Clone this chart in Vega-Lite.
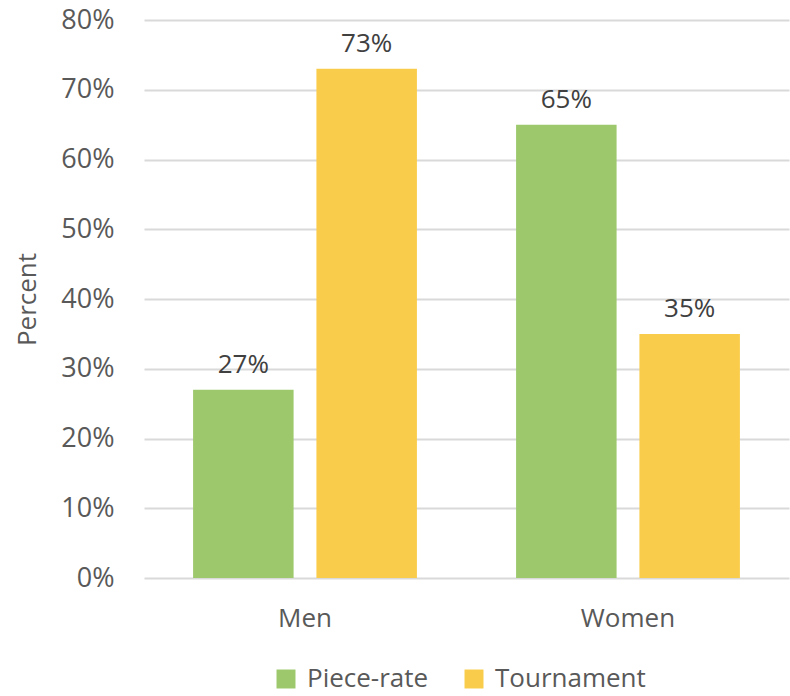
{
  "$schema": "https://vega.github.io/schema/vega-lite/v6.json",
  "width": 645,
  "height": 558,
  "autosize": {"type": "none"},
  "padding": {"left": 144, "top": 20, "right": 1, "bottom": 118},
  "background": "white",
  "config": {
    "view": {"stroke": null},
    "font": "Open Sans"
  },
  "data": {
    "values": [
      {"gender": "Men", "scheme": "Piece-rate", "pct": 0.27},
      {"gender": "Men", "scheme": "Tournament", "pct": 0.73},
      {"gender": "Women", "scheme": "Piece-rate", "pct": 0.65},
      {"gender": "Women", "scheme": "Tournament", "pct": 0.35}
    ]
  },
  "encoding": {
    "x": {
      "field": "gender", "type": "nominal",
      "scale": {"paddingInner": 0.307, "paddingOuter": 0.152},
      "axis": {"title": null, "labelAngle": 0, "labelFontSize": 26, "labelColor": "#595959", "ticks": false, "domain": false, "labelPadding": 27, "labelFont": "Open Sans"}
    },
    "xOffset": {
      "field": "scheme", "type": "nominal",
      "scale": {"paddingInner": 0.185, "paddingOuter": 0}
    },
    "y": {
      "field": "pct", "type": "quantitative",
      "scale": {"domain": [0, 0.8]},
      "axis": {"format": ".0%", "tickCount": 8, "title": "Percent", "titleFontSize": 26, "titleFontWeight": "normal", "titleColor": "#595959", "titlePadding": 20, "labelFontSize": 27, "labelColor": "#595959", "ticks": false, "domain": false, "labelPadding": 30, "gridColor": "#d9d9d9", "gridWidth": 2}
    }
  },
  "layer": [
    {
      "mark": {"type": "bar"},
      "encoding": {
        "color": {
          "field": "scheme", "type": "nominal",
          "scale": {"domain": ["Piece-rate", "Tournament"], "range": ["#9DC96C", "#F9CD4B"]},
          "legend": {"title": null, "orient": "none", "legendX": 129, "legendY": 646, "direction": "horizontal", "symbolType": "square", "symbolSize": 360, "symbolStrokeWidth": 0, "labelFontSize": 26, "labelColor": "#595959", "columnPadding": 32, "labelOffset": 8}
        }
      }
    },
    {
      "mark": {"type": "text", "baseline": "bottom", "dy": -12, "fontSize": 26, "color": "#404040"},
      "encoding": {
        "text": {"field": "pct", "type": "quantitative", "format": ".0%"}
      }
    }
  ]
}
